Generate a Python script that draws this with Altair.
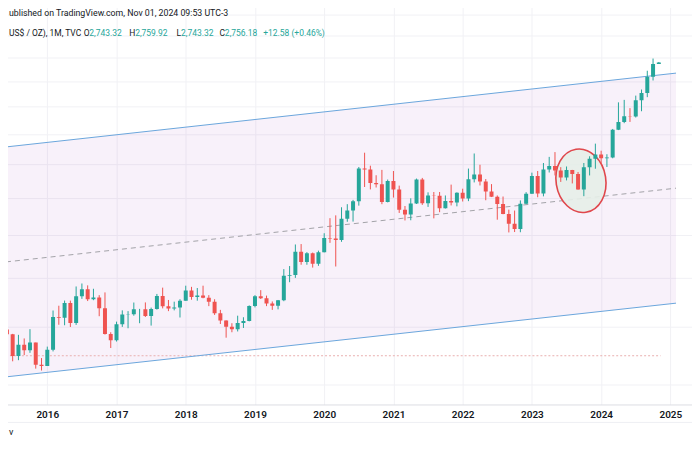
import altair as alt
import pandas as pd

# ---- monthly candles (month index 0 = Jan 2016) ----
month_idx = list(range(-7, 107))
opens = [1190.5, 1172.2, 1095.4, 1134.5, 1115.1, 1142.2, 1065.0,
         1061.0, 1117.2, 1237.9, 1234.6, 1293.3, 1214.7, 1321.5, 1351.0, 1309.1, 1316.0, 1272.6, 1173.1,
         1150.6, 1210.0, 1248.2, 1249.0, 1268.3, 1268.6, 1241.7, 1269.0, 1322.0, 1280.0, 1271.0, 1275.0,
         1303.0, 1345.0, 1318.0, 1325.0, 1315.5, 1298.5, 1253.0, 1224.0, 1201.0, 1191.5, 1214.5, 1222.0,
         1281.5, 1321.0, 1313.0, 1292.0, 1283.0, 1305.0, 1409.0, 1413.0, 1520.0, 1472.0, 1513.0, 1464.0,
         1517.0, 1587.0, 1585.0, 1577.0, 1686.0, 1730.0, 1781.0, 1975.0, 1968.0, 1886.0, 1879.0, 1777.0,
         1898.0, 1848.0, 1734.0, 1708.0, 1769.0, 1907.0, 1770.0, 1814.0, 1813.0, 1743.0, 1783.0, 1774.0,
         1829.0, 1797.0, 1909.0, 1937.0, 1896.0, 1837.0, 1807.0, 1766.0, 1711.0, 1660.0, 1633.0, 1768.0,
         1824.0, 1928.0, 1826.0, 1969.0, 1990.0, 1962.0, 1919.0, 1965.0, 1940.0, 1849.0, 1983.0, 2036.0,
         2063.0, 2039.0, 2044.0, 2230.0, 2286.0, 2327.0, 2326.0, 2447.0, 2503.0, 2634.0, 2743.3]
highs = [1205.3, 1174.0, 1170.4, 1157.2, 1191.5, 1142.2, 1088.0,
         1127.8, 1263.5, 1282.6, 1303.6, 1303.3, 1362.6, 1375.4, 1367.4, 1352.8, 1326.0, 1337.4, 1180.0,
         1220.0, 1264.0, 1261.0, 1295.5, 1270.0, 1296.0, 1275.0, 1331.0, 1357.6, 1306.0, 1299.0, 1309.0,
         1366.0, 1361.0, 1356.0, 1366.0, 1326.0, 1309.0, 1266.0, 1225.0, 1214.0, 1243.0, 1237.0, 1284.0,
         1326.0, 1347.0, 1324.0, 1300.0, 1306.0, 1439.0, 1453.0, 1555.0, 1557.0, 1518.0, 1516.0, 1525.0,
         1611.0, 1689.0, 1704.0, 1748.0, 1765.0, 1789.0, 1984.0, 2075.0, 1992.0, 1933.0, 1966.0, 1907.0,
         1959.0, 1871.0, 1755.0, 1798.0, 1913.0, 1917.0, 1832.0, 1834.0, 1834.0, 1814.0, 1877.0, 1832.0,
         1853.0, 1974.0, 2070.0, 1998.0, 1910.0, 1880.0, 1814.0, 1808.0, 1735.0, 1730.0, 1786.0, 1833.0,
         1949.0, 1959.0, 2009.0, 2048.0, 2079.0, 1983.0, 1987.0, 1966.0, 1953.0, 2009.0, 2052.0, 2135.0,
         2088.0, 2065.0, 2236.0, 2431.0, 2450.0, 2387.0, 2483.0, 2531.0, 2685.0, 2790.0, 2759.9]
lows = [1162.4, 1077.0, 1080.8, 1098.2, 1106.1, 1052.5, 1046.2,
        1061.8, 1111.0, 1208.1, 1206.2, 1199.7, 1207.5, 1310.6, 1301.6, 1305.1, 1241.0, 1171.4, 1122.9,
        1146.0, 1200.0, 1195.0, 1243.0, 1214.0, 1238.0, 1205.0, 1267.0, 1272.0, 1261.0, 1264.0, 1236.0,
        1303.0, 1307.0, 1303.0, 1313.0, 1281.0, 1246.0, 1211.0, 1160.0, 1180.0, 1183.0, 1196.0, 1221.0,
        1276.0, 1310.0, 1281.0, 1266.0, 1268.0, 1301.0, 1381.0, 1400.0, 1459.0, 1459.0, 1446.0, 1454.0,
        1517.0, 1563.0, 1451.0, 1568.0, 1670.0, 1671.0, 1757.0, 1863.0, 1849.0, 1860.0, 1765.0, 1775.0,
        1802.0, 1717.0, 1677.0, 1678.0, 1766.0, 1761.0, 1750.0, 1688.0, 1721.0, 1741.0, 1758.0, 1753.0,
        1780.0, 1782.0, 1890.0, 1872.0, 1787.0, 1805.0, 1681.0, 1710.0, 1615.0, 1617.0, 1616.0, 1765.0,
        1823.0, 1804.0, 1809.0, 1950.0, 1932.0, 1893.0, 1902.0, 1884.0, 1847.0, 1810.0, 1932.0, 1973.0,
        2002.0, 1984.0, 2039.0, 2228.0, 2277.0, 2286.0, 2318.0, 2364.0, 2471.0, 2604.0, 2743.3]
closes = [1172.2, 1095.4, 1134.5, 1115.1, 1142.2, 1065.0, 1061.0,
          1117.2, 1237.9, 1234.6, 1293.3, 1214.7, 1321.5, 1351.0, 1309.1, 1316.0, 1272.6, 1173.1, 1150.6,
          1210.0, 1248.2, 1249.0, 1268.3, 1268.6, 1241.7, 1269.0, 1322.0, 1280.0, 1271.0, 1275.0, 1303.0,
          1345.0, 1318.0, 1325.0, 1315.5, 1298.5, 1253.0, 1224.0, 1201.0, 1191.5, 1214.5, 1222.0, 1281.5,
          1321.0, 1313.0, 1292.0, 1283.0, 1305.0, 1409.0, 1413.0, 1520.0, 1472.0, 1513.0, 1464.0, 1517.0,
          1587.0, 1585.0, 1577.0, 1686.0, 1730.0, 1781.0, 1975.0, 1968.0, 1886.0, 1879.0, 1777.0, 1898.0,
          1848.0, 1734.0, 1708.0, 1769.0, 1907.0, 1770.0, 1814.0, 1813.0, 1743.0, 1783.0, 1774.0, 1829.0,
          1797.0, 1909.0, 1937.0, 1896.0, 1837.0, 1807.0, 1766.0, 1711.0, 1660.0, 1633.0, 1768.0, 1824.0,
          1928.0, 1826.0, 1969.0, 1990.0, 1962.0, 1919.0, 1965.0, 1940.0, 1849.0, 1983.0, 2036.0, 2063.0,
          2039.0, 2044.0, 2230.0, 2286.0, 2327.0, 2326.0, 2447.0, 2503.0, 2634.0, 2743.3, 2756.2]

year_ticks = [0, 12, 24, 36, 48, 60, 72, 84, 96, 108]
price_grid = [1000, 1200, 1400, 1600, 1800, 2000, 2200, 2400, 2600, 2800, 3000, 3200]

# parallel channel drawing
channel_idx = [-7.16, 108.98]
channel_upper = [2113.0, 2665.0]
channel_lower = [1025.5, 1293.0]
channel_mid = [1472.0, 1856.0]

# horizontal dotted line
hline_idx = [-7.16, 106.3]
hline_price = [1096.0, 1096.0]

# ellipse annotation
ellipse_idx = [92.5]
ellipse_price = [1900.0]

UP = "#26a69a"
DOWN = "#ef5350"
TXT = "#131722"
FONT = "Roboto"

candles = pd.DataFrame({"idx": month_idx, "open": opens, "high": highs,
                        "low": lows, "close": closes})
candles["dir"] = ["up" if c >= o else "down" for o, c in zip(opens, closes)]

channel = pd.DataFrame({"idx": channel_idx, "upper": channel_upper,
                        "lower": channel_lower, "mid": channel_mid})
hline = pd.DataFrame({"idx": hline_idx, "price": hline_price})
ell = pd.DataFrame({"idx": ellipse_idx, "price": ellipse_price})

xscale = alt.Scale(domain=[-7.155, 112.095], nice=False, zero=False)
yscale = alt.Scale(type="log", domain=[940.3, 3347.0], nice=False, zero=False)

xaxis = alt.Axis(values=year_ticks, labelExpr="'' + (2016 + datum.value / 12)",
                 title=None, grid=True, gridColor="#f1f1f5", domainColor="#dcdde3",
                 ticks=False, labelFontSize=10, labelColor=TXT, labelFont=FONT,
                 labelFontWeight=600, labelPadding=5)
yaxis = alt.Axis(values=price_grid, grid=True, gridColor="#f1f1f5", labels=False,
                 ticks=False, domain=False, title=None)


def X(field="idx"):
    return alt.X(f"{field}:Q", scale=xscale, axis=xaxis)


band = alt.Chart(channel).mark_area(color="#9c27b0", opacity=0.065, clip=True).encode(
    x=X(), y=alt.Y("upper:Q", scale=yscale, axis=yaxis), y2="lower:Q")

upper = alt.Chart(channel).mark_line(color="#6aa6dc", strokeWidth=1, clip=True).encode(
    x=X(), y=alt.Y("upper:Q", scale=yscale, axis=yaxis))
lower = alt.Chart(channel).mark_line(color="#6aa6dc", strokeWidth=1, clip=True).encode(
    x=X(), y=alt.Y("lower:Q", scale=yscale, axis=yaxis))
mid = alt.Chart(channel).mark_line(color="#a3a3a8", strokeWidth=1, strokeDash=[5, 4],
                                   clip=True).encode(
    x=X(), y=alt.Y("mid:Q", scale=yscale, axis=yaxis))

hl = alt.Chart(hline).mark_line(color="#e9b0b0", strokeWidth=1, strokeDash=[2, 2],
                                clip=True).encode(
    x=X(), y=alt.Y("price:Q", scale=yscale, axis=yaxis))

ellipse_path = ("M0,-1C0.4308,-1,0.78,-0.5523,0.78,0C0.78,0.5523,0.4308,1,0,1"
                "C-0.4308,1,-0.78,0.5523,-0.78,0C-0.78,-0.5523,-0.4308,-1,0,-1Z")
ellipse = alt.Chart(ell).mark_point(shape=ellipse_path, filled=True, fill="#e6eee8",
                                    fillOpacity=0.9, stroke="#e0474c", strokeWidth=1.6,
                                    strokeOpacity=1, opacity=1, size=4096, angle=351).encode(
    x=X(), y=alt.Y("price:Q", scale=yscale, axis=yaxis))

color = alt.Color("dir:N", scale=alt.Scale(domain=["up", "down"], range=[UP, DOWN]),
                  legend=None)

wicks = alt.Chart(candles).mark_rule(strokeWidth=1, clip=True).encode(
    x=X(), y=alt.Y("low:Q", scale=yscale, axis=yaxis), y2="high:Q", color=color)
bodies = alt.Chart(candles).mark_bar(size=4, clip=True).encode(
    x=X(), y=alt.Y("open:Q", scale=yscale, axis=yaxis), y2="close:Q", color=color)


def label(text, x, y, col=TXT, size=8.5, weight="normal"):
    return alt.Chart(pd.DataFrame({"t": [text]})).mark_text(
        align="left", baseline="middle", font=FONT, fontSize=size, color=col,
        fontWeight=weight).encode(x=alt.value(x), y=alt.value(y), text="t:N")


texts = [
    label("ublished on TradingView.com, Nov 01, 2024 09:53 UTC-3", 8, 12.5, TXT, 8.8),
    label("US$ / OZ), 1M, TVC", 8, 32.5),
    label("O", 83, 32.5), label("2,743.32", 88.5, 32.5, UP),
    label("H", 128.5, 32.5), label("2,759.92", 134.5, 32.5, UP),
    label("L", 176, 32.5), label("2,743.32", 180.5, 32.5, UP),
    label("C", 219, 32.5), label("2,756.18", 224.5, 32.5, UP),
    label("+12.58 (+0.46%)", 263, 32.5, UP),
    label("v", 8, 433, TXT, 9),
]

bottom_rule = alt.Chart(pd.DataFrame({"a": [0]})).mark_rule(color="#eeeff3").encode(
    x=alt.value(0), x2=alt.value(700), y=alt.value(423))

chart = alt.layer(band, hl, mid, upper, lower, ellipse, wicks, bodies, bottom_rule, *texts).properties(
    width=700, height=405,
    padding={"left": -8, "top": -8, "right": -8, "bottom": 0},
    background="white",
).configure_view(stroke=None)

chart.save("out.html", embed_options={"renderer": "svg", "actions": False})
